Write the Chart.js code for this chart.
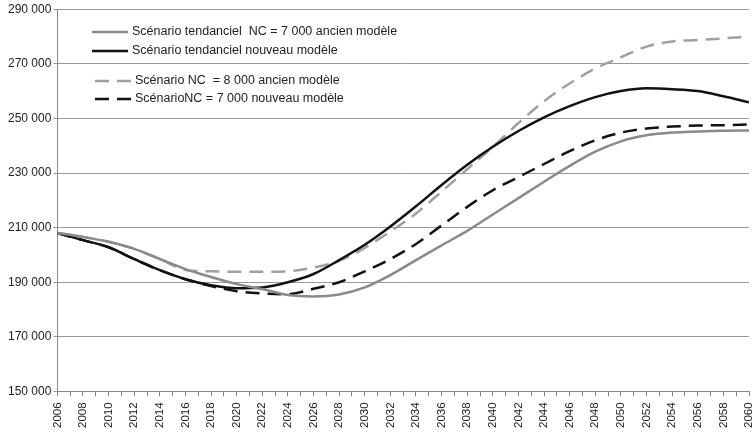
<!DOCTYPE html>
<html>
<head>
<meta charset="utf-8">
<script src="https://cdn.jsdelivr.net/npm/chart.js@4/dist/chart.umd.min.js"></script>
<style>
  html, body { margin: 0; padding: 0; background: #fff; }
  #wrap { width: 754px; height: 434px; }
</style>
</head>
<body>
<div id="wrap"><canvas id="mainChart" width="754" height="434"></canvas></div>
<script>
// years read every 2 years
const years = [2006, 2008, 2010, 2012, 2014, 2016, 2018, 2020, 2022, 2024, 2026, 2028, 2030, 2032,
  2034, 2036, 2038, 2040, 2042, 2044, 2046, 2048, 2050, 2052, 2054, 2056, 2058, 2060];

const tendancielAncien = [208000, 206600, 204800, 202200, 198500, 194800, 191900, 189300, 187500, 185300,
  184800, 185500, 188100, 192600, 198100, 203500, 208800, 214800, 220800, 226800, 232600, 237800,
  241600, 243800, 244800, 245200, 245500, 245600];

const tendancielNouveau = [208000, 205400, 202800, 198500, 194400, 191100, 188900, 187800, 188100, 190000,
  193000, 198100, 203700, 210400, 217800, 225600, 233000, 239600, 245400, 250400, 254500, 257800,
  260000, 261000, 260700, 260000, 258100, 255900];

const nc8000Ancien = [208000, 206600, 204800, 202200, 198500, 194500, 194000, 193800, 193800, 194000,
  195400, 197800, 202600, 208600, 215200, 223200, 231400, 239600, 248300, 256300, 262800, 268300,
  272400, 276300, 278200, 278700, 279300, 280000];

const nc7000Nouveau = [208000, 205400, 202800, 198500, 194400, 191100, 188600, 186700, 185900, 185600,
  187600, 190000, 194000, 198500, 204000, 210800, 217600, 223700, 228500, 233300, 238000, 242000,
  244800, 246300, 247000, 247400, 247500, 247800];

const yTicks = { min: 150000, max: 290000, step: 20000 };

const fontFamily = "'Liberation Sans', Arial, sans-serif";

const toPoints = arr => years.map((y, i) => ({ x: y, y: arr[i] }));

const fmt = v => String(v).replace(/\B(?=(\d{3})+(?!\d))/g, " ");

// legend drawn inside the plot, two groups
const legendPlugin = {
  id: "insideLegend",
  afterDatasetsDraw(chart) {
    const ctx = chart.ctx;
    const rows = [
      { i: 0, y: 32, x0: 92, x1: 128, tx: 132 },
      { i: 1, y: 51, x0: 92, x1: 128, tx: 132 },
      { i: 2, y: 81, x0: 95, x1: 131, tx: 135 },
      { i: 3, y: 99, x0: 95, x1: 131, tx: 135 }
    ];
    ctx.save();
    rows.forEach(r => {
      const ds = chart.data.datasets[r.i];
      ctx.beginPath();
      ctx.strokeStyle = ds.borderColor;
      ctx.lineWidth = ds.borderWidth;
      ctx.setLineDash(ds.borderDash || []);
      ctx.moveTo(r.x0, r.y);
      ctx.lineTo(r.x1, r.y);
      ctx.stroke();
      ctx.setLineDash([]);
      ctx.fillStyle = "#222";
      ctx.font = "12.5px " + fontFamily;
      ctx.textBaseline = "middle";
      ctx.fillText(ds.label, r.tx, r.y);
    });
    ctx.restore();
  }
};

new Chart(document.getElementById("mainChart"), {
  type: "line",
  data: {
    datasets: [
      {
        label: "Scénario tendanciel  NC = 7 000 ancien modèle",
        data: toPoints(tendancielAncien),
        borderColor: "#8a8a8a",
        borderWidth: 2.5
      },
      {
        label: "Scénario tendanciel nouveau modèle",
        data: toPoints(tendancielNouveau),
        borderColor: "#111111",
        borderWidth: 2.5
      },
      {
        label: "Scénario NC  = 8 000 ancien modèle",
        data: toPoints(nc8000Ancien),
        borderColor: "#a0a0a0",
        borderWidth: 2.5,
        borderDash: [14, 8]
      },
      {
        label: "ScénarioNC = 7 000 nouveau modèle",
        data: toPoints(nc7000Nouveau),
        borderColor: "#111111",
        borderWidth: 2.5,
        borderDash: [14, 8]
      }
    ]
  },
  options: {
    responsive: false,
    animation: false,
    layout: { padding: { left: 6, top: 4, right: 0, bottom: 0 } },
    elements: {
      point: { radius: 0 },
      line: { cubicInterpolationMode: "monotone" }
    },
    plugins: {
      legend: { display: false },
      tooltip: { enabled: false }
    },
    scales: {
      x: {
        type: "linear",
        min: 2006,
        max: 2060,
        border: { color: "#888", width: 1 },
        grid: { drawOnChartArea: false, drawTicks: true, tickLength: 5, color: "#888" },
        ticks: {
          stepSize: 1,
          autoSkip: false,
          maxRotation: 90,
          minRotation: 90,
          padding: 6,
          color: "#222",
          font: { family: fontFamily, size: 11.5 },
          callback: v => (v % 2 === 0 ? String(v) : "")
        },
        afterFit: s => { s.paddingRight = 5; }
      },
      y: {
        min: yTicks.min,
        max: yTicks.max,
        border: { color: "#888", width: 1 },
        grid: { color: "#999", tickLength: 4 },
        ticks: {
          stepSize: yTicks.step,
          padding: 2,
          color: "#222",
          font: { family: fontFamily, size: 12 },
          callback: v => fmt(v)
        }
      }
    }
  },
  plugins: [legendPlugin]
});
</script>
</body>
</html>
